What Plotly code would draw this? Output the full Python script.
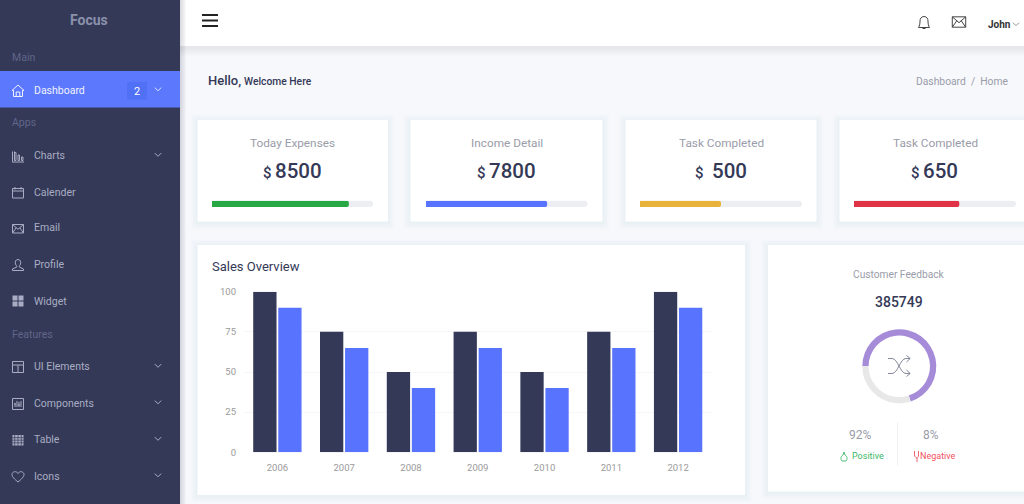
import re
import plotly.graph_objects as go

# ---------- data ----------
years = ["2006", "2007", "2008", "2009", "2010", "2011", "2012"]
series_dark = [100, 75, 50, 75, 50, 75, 100]
series_blue = [90, 65, 40, 65, 40, 65, 90]
y_ticks = [0, 25, 50, 75, 100]
kpi_titles = ["Today Expenses", "Income Detail", "Task Completed", "Task Completed"]
kpi_values = ["8500", "7800", "500", "650"]
kpi_progress = [85, 75, 50, 65]
kpi_colors = ["#27a844", "#5873fe", "#e9b33b", "#e03345"]
feedback_values = [70, 30]
feedback_colors = ["#a58bd8", "#e8e8e8"]

W, H = 1024, 504
NAVY = "#343957"
BLUE = "#5873fe"
GREY = "#9a9ca9"
SIDE = "#a9adc3"
SEC = "#60668a"

shapes, notes = [], []


def fx(x):
    return x / W


def fy(y):
    return 1 - y / H


def rect(x0, y0, x1, y1, fill, layer="below"):
    shapes.append(dict(type="rect", xref="paper", yref="paper", x0=fx(x0), x1=fx(x1),
                       y0=fy(y0), y1=fy(y1), fillcolor=fill, line_width=0, layer=layer))


def shadow(x0, y0, x1, y1, spread=7, alpha=0.008, dy=1):
    for s in range(spread, 0, -1):
        rect(x0 - s, y0 - s + dy, x1 + s, y1 + s + dy, f"rgba(60,65,100,{alpha})")


def path(d, ox=0, oy=0, color=SIDE, width=1.0, fill=None, layer="above", scale=1.0):
    toks = re.findall(r"[MLCZ]|-?\d+\.?\d*", d)
    out, isx = [], True
    for t in toks:
        if t in "MLCZ":
            out.append(t)
            isx = True
        else:
            v = float(t) * scale
            out.append(f"{fx(v + ox):.5f}" if isx else f"{fy(v + oy):.5f}")
            isx = not isx
    s = ""
    i = 0
    while i < len(out):
        if out[i] in "MLCZ":
            s += out[i]
            i += 1
        else:
            s += out[i] + "," + out[i + 1] + " "
            i += 2
    shapes.append(dict(type="path", path=s, xref="paper", yref="paper", layer=layer,
                       line=dict(color=color, width=width),
                       fillcolor=fill if fill else "rgba(0,0,0,0)"))


def text(x, y, s, size=10.5, color=GREY, anchor="left", weight=400):
    notes.append(dict(xref="paper", yref="paper", x=fx(x), y=fy(y), text=s, showarrow=False,
                      xanchor=anchor, yanchor="middle", borderpad=0,
                      font=dict(family="Roboto", size=size, color=color, weight=weight)))


# ---------- page chrome ----------
shadow(180, -10, W + 10, 46, spread=8, alpha=0.012, dy=2)
rect(180, 0, W, 46, "#ffffff")
shadow(-10, -10, 180, H + 10, spread=6, alpha=0.03, dy=0)
rect(0, 0, 180, H, NAVY)
rect(0, 71, 180, 107.5, "#5c79fe")
rect(127, 82, 147, 99.5, "#5070f6")

# ---------- sidebar ----------
text(89, 20.5, "Focus", 14, "#8b91ab", "center", 700)
for label, y in [("Main", 57), ("Apps", 122.5), ("Features", 334)]:
    text(11, y, label, 10.5, SEC)
items = [("Dashboard", 90), ("Charts", 155.5), ("Calender", 192), ("Email", 228),
         ("Profile", 264.5), ("Widget", 301), ("UI Elements", 366.5),
         ("Components", 403), ("Table", 439.5), ("Icons", 476)]
for label, y in items:
    text(33, y, label, 10.5, "#f0f2ff" if label == "Dashboard" else SIDE)
text(137, 91, "2", 11, "#ffffff", "center")


def chevron(x, y, color=SIDE, w=1.0, r=3.2):
    path(f"M{x - r} {y - r / 2 - 0.3} L{x} {y + r / 2 - 0.3} L{x + r} {y - r / 2 - 0.3}", color=color, width=w)


for y in [89.5, 155, 366, 402.5, 439, 475.5]:
    chevron(158, y, "#dde3ff" if y == 89.5 else SIDE)

ic = {
    "home": "M0 -5.5 L-6 0 L-4.5 0 L-4.5 6 L4.5 6 L4.5 0 L6 0 Z M-1.8 6 L-1.8 1.5 L1.8 1.5 L1.8 6",
    "charts": "M-5.5 -5 L-5.5 5 M-3.5 -5 L-3.5 4 L-2 4 L-2 -4 L-3.5 -4 M0 -1.5 L0 4 L1.5 4 L1.5 -1.5 Z M3.5 0.5 L3.5 4 L5 4 L5 0.5 Z M-6 5.5 L6 5.5",
    "cal": "M-5.5 -4 L5.5 -4 L5.5 5.5 L-5.5 5.5 Z M-5.5 -1.5 L5.5 -1.5 M-3 -5.5 L-3 -3 M3 -5.5 L3 -3",
    "mail": "M-5.5 -4 L5.5 -4 L5.5 4.5 L-5.5 4.5 Z M-5.5 -4 L0 0.8 L5.5 -4 M-5.5 4.5 L-1.8 -0.8 M5.5 4.5 L1.8 -0.8",
    "user": "M0 -5.5 C2.5 -5.5 3 -3 2.5 -1 C2 0.5 1 1 1.2 2 L5.5 4 L5.5 5.5 L-5.5 5.5 L-5.5 4 L-1.2 2 C-1 1 -2 0.5 -2.5 -1 C-3 -3 -2.5 -5.5 0 -5.5 Z",
    "ui": "M-5.5 -5.5 L5.5 -5.5 L5.5 5.5 L-5.5 5.5 Z M-5.5 -2 L5.5 -2 M0 -2 L0 5.5",
    "comp": "M-5.5 -5.5 L5.5 -5.5 L5.5 5.5 L-5.5 5.5 Z M-3 -1 L-3 3 M-1 -3 L-1 3 M1 -2 L1 3 M3 -3 L3 3 M-4 0 L-2 0 M0 1 L2 1",
    "heart": "M0 5.5 C-3 3 -6 0.5 -6 -2 C-6 -5 -1.5 -6 0 -3 C1.5 -6 6 -5 6 -2 C6 0.5 3 3 0 5.5 Z",
}
ix = 18
path(ic["home"], ix, 90.5, "#f0f2ff")
path(ic["charts"], ix, 156.5)
path(ic["cal"], ix, 192.5)
path(ic["mail"], ix, 228.5)
path(ic["user"], ix, 265)
path(ic["ui"], ix, 367)
path(ic["comp"], ix, 404)
path(ic["heart"], ix, 476.5)
for cx in (-3, 3):
    for cy in (-3, 3):
        rect(ix + cx - 2.5, 301 + cy - 2.5, ix + cx + 2.5, 301 + cy + 2.5, SIDE, "above")
rect(ix - 5.5, 435, ix + 5.5, 445.5, SIDE, "above")
for d in (-3.3, 0, 3.3):
    path(f"M{ix + d} 435 L{ix + d} 445.5", color=NAVY, width=0.7)
for y in (437.6, 440.2, 442.8):
    path(f"M{ix - 5.5} {y} L{ix + 5.5} {y}", color=NAVY, width=0.7)

# ---------- header ----------
for y in (15, 20.5, 26):
    rect(202, y - 1, 218, y + 1, "#222222", "above")
path("M924 16.5 C921 16.5 920 19 920 21 C920 24 919.5 26 918.5 27.5 L929.5 27.5 C928.5 26 928 24 928 21 C928 19 927 16.5 924 16.5 Z M922.5 28.5 L925.5 28.5",
     color="#444444", width=1)
path(ic["mail"], 959, 21.7, "#444444", 1, scale=1.22)
text(986.5, 24, "John", 10, "#333333", "left", 700)
chevron(1016, 24.5, "#777777", 0.8, 3)
text(206.5, 81, "Hello,", 13, NAVY, "left", 500)
text(243, 81.7, "Welcome Here", 10.3, NAVY, "left", 500)
text(1010, 81.5, "Dashboard&nbsp;&nbsp;/&nbsp;&nbsp;Home", 10.3, GREY, "right")

# ---------- cards ----------
cards = [(197.5, 388), (410.5, 602.5), (625.5, 816.5), (839.5, W + 10)]
for x0, x1 in cards:
    shadow(x0, 120, x1, 221.5)
    rect(x0, 120, x1, 221.5, "#ffffff")
shadow(197.5, 245, 745, 495)
rect(197.5, 245, 745, 495, "#ffffff")
shadow(768, 245, W + 10, 491.5)
rect(768, 245, W + 10, 491.5, "#ffffff")

kpi_centres = [292.5, 506.5, 721, 935]
kpi_dollar = [267.5, 481.7, 699, 915.7]
kpi_num = [298.3, 512.3, 729, 940.7]
for t, v, cx, dx, nx in zip(kpi_titles, kpi_values, kpi_centres, kpi_dollar, kpi_num):
    text(cx, 143, t, 11.8, GREY, "center")
    text(dx, 173, "$", 15, NAVY, "center", 500)
    text(nx, 171, v, 20.5, NAVY, "center", 500)

text(211, 266.5, "Sales Overview", 13, NAVY)
text(899, 274, "Customer Feedback", 10.2, GREY, "center")
text(899, 302, "385749", 14, NAVY, "center", 500)
text(860, 435, "92%", 12, GREY, "center")
text(931, 435, "8%", 12, GREY, "center")
text(850.5, 456, "Positive", 9, "#3cb868")
text(919, 456, "Negative", 9, "#ef5261")
rect(897.2, 422, 898, 466, "#eeeeee")
# shuffle icon
path("M888 358.5 L892 358.5 C898 358.5 900 373.5 906 373.5 L910 373.5 M906.5 370 L910.2 373.5 L906.5 376.5 "
     "M888 373.5 L892 373.5 C898 373.5 900 358.5 906 358.5 L910 358.5 M906.5 355.5 L910.2 358.5 L906.5 362",
     color="#85889a", width=1)
# thumbs
path("M842 461 C840 459 841 456 843 455 L844 452 L845 455 C847 456 848 459 846 461 Z", color="#3cb868", width=0.9)
path("M914.5 451 L914.5 455 C915 458 917 458 917 458 L917 462 M918.5 451 L918.5 456 C918.5 457 917.5 458 917 458",
     color="#ef5261", width=0.9)

# ---------- traces ----------
fig = go.Figure()
fig.add_bar(x=years, y=series_dark, marker_color=NAVY, marker_line_width=0, name="Series A", xaxis="x", yaxis="y")
fig.add_bar(x=years, y=series_blue, marker_color=BLUE, marker_line_width=0, name="Series B", xaxis="x", yaxis="y")

tracks = [(212, 373), (426, 587.5), (640, 802), (854, 1016)]
axes = {}
for i, (val, col, (tx0, tx1)) in enumerate(zip(kpi_progress, kpi_colors, tracks), start=2):
    xn, yn = f"x{i}", f"y{i}"
    path(f"M{tx0 + 3} 200.7 L{tx1 - 3} 200.7 C{tx1 - 1} 200.7 {tx1} 202 {tx1} 203.8 C{tx1} 205.7 {tx1 - 1} 207 {tx1 - 3} 207 "
         f"L{tx0 + 3} 207 C{tx0 + 1} 207 {tx0} 205.7 {tx0} 203.8 C{tx0} 202 {tx0 + 1} 200.7 {tx0 + 3} 200.7 Z",
         color="rgba(0,0,0,0)", width=0, fill="#eceef1", layer="below")
    fig.add_bar(x=[val], y=[0], orientation="h", width=1, marker=dict(color=col, line_width=0, cornerradius=2),
                xaxis=xn, yaxis=yn, showlegend=False)
    axes[f"xaxis{i}"] = dict(domain=[fx(tx0), fx(tx1)], range=[0, 100], visible=False, anchor=yn)
    axes[f"yaxis{i}"] = dict(domain=[fy(207), fy(200.7)], range=[-0.5, 0.5], visible=False, anchor=xn)

cx, cy, r = 899.3, 366.3, 37
fig.add_pie(values=feedback_values, marker=dict(colors=feedback_colors, line_width=0), hole=0.83,
            rotation=270, sort=False, direction="clockwise", textinfo="none", showlegend=False,
            domain=dict(x=[fx(cx - r), fx(cx + r)], y=[fy(cy + r), fy(cy - r)]))

fig.update_layout(
    width=W, height=H, margin=dict(l=0, r=0, t=0, b=0, pad=0, autoexpand=False), autosize=False,
    paper_bgcolor="#f7f8fc", plot_bgcolor="rgba(0,0,0,0)", showlegend=False,
    barmode="group", bargap=0.25, bargroupgap=0.07,
    font=dict(family="Roboto"),
    xaxis=dict(domain=[fx(244), fx(711.5)], range=[-0.5, 6.5], type="category", tickmode="array",
               tickvals=years, ticktext=years, showgrid=False, zeroline=False, showline=False, ticks="",
               ticklabelstandoff=8, tickfont=dict(size=9.5, color="#9a9a9a"), anchor="y"),
    yaxis=dict(domain=[fy(452.3), fy(291.7)], range=[0, 100], tickmode="array", tickvals=y_ticks,
               gridcolor="#f6f6f8", gridwidth=1, zeroline=False, showline=False, ticks="",
               ticklabelstandoff=7, tickfont=dict(size=9.5, color="#9a9a9a"), anchor="x"),
    shapes=shapes, annotations=notes, **axes,
)

fig.write_html("out.html", config=dict(displayModeBar=False),
               post_script="document.body.style.margin='0';document.documentElement.style.overflow='hidden';")
